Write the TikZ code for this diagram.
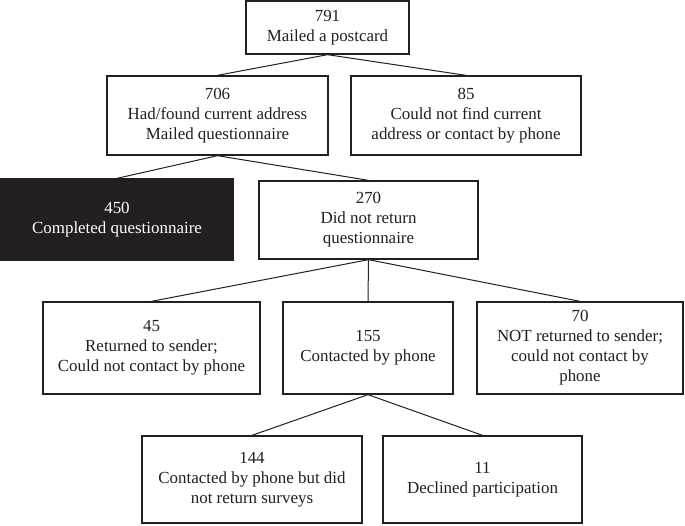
\documentclass[tikz,border=0pt]{standalone}
\usepackage{fontspec}
\setmainfont{Liberation Serif}
\definecolor{ink}{HTML}{231F20}
\begin{document}
\begin{tikzpicture}[x=0.75pt,y=-0.75pt,
  every node/.style={font=\fontsize{12.7}{15}\selectfont, text=ink, align=center, inner sep=0pt},
  box/.style 2 args={draw=ink, line width=1pt, fill=white, minimum width=#1*0.75pt, minimum height=#2*0.75pt},
  darkbox/.style 2 args={fill=ink, draw=ink, line width=1pt, text=white, minimum width=#1*0.75pt, minimum height=#2*0.75pt},
  link/.style={draw=ink, line width=0.75pt}]
\useasboundingbox (0,0) rectangle (685,525);
\node[box={163}{53}] (n791) at (327.5,27.5) {791\\Mailed a postcard};
\node[box={221}{79}] (n706) at (217.5,115.5) {706\\Had/found current address\\Mailed questionnaire};
\node[box={230}{79}] (n85) at (466,115.5) {85\\Could not find current\\address or contact by phone};
\node[darkbox={233}{81}] (n450) at (117,219.5) {450\\Completed questionnaire};
\node[box={219}{78}] (n270) at (368.5,220) {270\\Did not return\\questionnaire};
\node[box={217}{92}] (n45) at (151.5,348) {45\\Returned to sender;\\Could not contact by phone};
\node[box={170}{92}] (n155) at (368,348) {155\\Contacted by phone};
\node[box={206}{92}] (n70) at (580,348) {70\\NOT returned to sender;\\could not contact by\\phone};
\node[box={220}{87}] (n144) at (252,479.5) {144\\Contacted by phone but did\\not return surveys};
\node[box={199}{87}] (n11) at (482.5,479.5) {11\\Declined participation};
\draw[link] (n791.south) -- (n706.north);
\draw[link] (n791.south) -- (n85.north);
\draw[link] (n706.south) -- (n450.north);
\draw[link] (n706.south) -- (n270.north);
\draw[link] (n270.south) -- (n45.north);
\draw[link] (n270.south) -- (n155.north);
\draw[link] (n270.south) -- (n70.north);
\draw[link] (n155.south) -- (n144.north);
\draw[link] (n155.south) -- (n11.north);
\end{tikzpicture}
\end{document}
